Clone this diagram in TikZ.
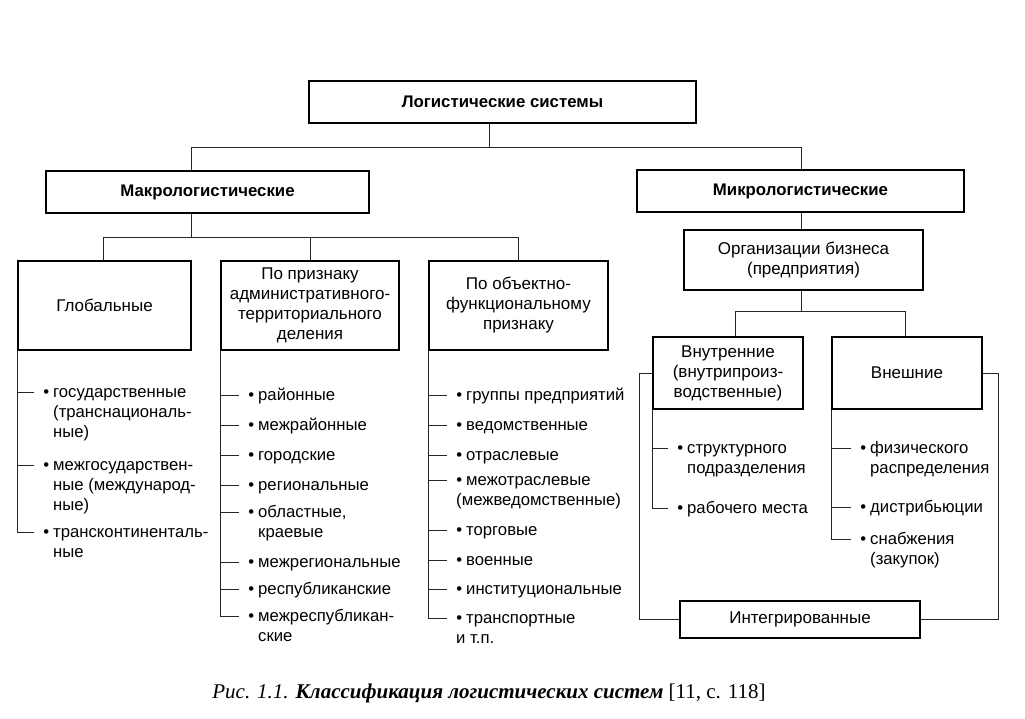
\documentclass[tikz,border=0pt]{standalone}
\usepackage{fontspec}
\setmainfont{Liberation Sans}
\newfontfamily\capfont{Liberation Serif}
\usetikzlibrary{calc}
\newcommand\ml[1]{\begin{tabular}[t]{@{}l@{}}#1\end{tabular}}
\newcommand\bl{\llap{•\hspace{4pt}}}
\tikzset{
  box/.style={draw=black, line width=1.5pt, inner sep=0pt, align=center,
    font=\fontsize{17}{20}\selectfont},
  bbox/.style={box, font=\fontsize{16.8}{20}\selectfont\bfseries},
  conn/.style={draw=black!85, line width=0.8pt},
  item/.style={anchor=base west, inner sep=0pt, font=\fontsize{16.7}{20}\selectfont},
}
% #1 name, #2 parent box, #3 text x, #4 tick y, #5 content
\newcommand\itm[5]{%
  \node[item] (#1) at (#3,#4+5) {\ml{\bl #5}};
  \coordinate (#1-t) at (#3-19,#4);
  \draw[conn] (#2.south west |- #1-t) -- (#1-t);
}
\begin{document}
\begin{tikzpicture}[x=1pt,y=-1pt]
\useasboundingbox (0,0) rectangle (1025,719);
% boxes
\node[bbox, minimum width=387, minimum height=42] (top) at (502.5,102) {Логистические системы};
\node[bbox, minimum width=323, minimum height=42] (macro) at (207.5,192) {Макрологистические};
\node[bbox, minimum width=327, minimum height=42] (micro) at (800.5,191) {Микрологистические};
\node[box, minimum width=173, minimum height=89] (glob) at (104.5,305.5) {Глобальные};
\node[box, minimum width=178, minimum height=89] (admin) at (310,305.5) {По признаку\\административного-\\территориального\\деления};
\node[box, minimum width=179, minimum height=89] (obj) at (518.5,305.5) {По объектно-\\функциональному\\признаку};
\node[box, minimum width=239, minimum height=60] (org) at (803.5,260) {Организации бизнеса\\(предприятия)};
\node[box, minimum width=150, minimum height=72] (inner) at (728,373) {Внутренние\\(внутрипроиз-\\водственные)};
\node[box, minimum width=150, minimum height=72] (outer) at (907,373) {Внешние};
\node[box, minimum width=240, minimum height=37] (integ) at (800,619.5) {Интегрированные};
% tree connectors
\coordinate (t1) at (489,147);
\coordinate (tl) at (191,147);
\coordinate (tr) at (801,147);
\draw[conn] (top.south -| t1) -- (t1);
\draw[conn] (macro.north -| tl) -- (tl) -- (tr) -- (micro.north -| tr);
\coordinate (m1) at (191,237);
\coordinate (ml) at (103,237);
\coordinate (mm) at (310,237);
\coordinate (mr) at (518,237);
\draw[conn] (macro.south -| m1) -- (m1);
\draw[conn] (glob.north -| ml) -- (ml) -- (mr) -- (obj.north -| mr);
\draw[conn] (admin.north -| mm) -- (mm);
\coordinate (oc) at (801,311);
\coordinate (ib) at (735,311);
\coordinate (eb) at (905,311);
\draw[conn] (micro.south -| oc) -- (org.north -| oc);
\draw[conn] (org.south -| oc) -- (oc);
\draw[conn] (inner.north -| ib) -- (ib) -- (eb) -- (outer.north -| eb);
\coordinate (lb) at (639,373);
\coordinate (rb) at (998,373);
\draw[conn] (inner.west) -- (lb) |- (integ.west);
\draw[conn] (outer.east) -- (rb) |- (integ.east);
% global items
\itm{g1}{glob}{53}{392}{государственные\\(транснациональ-\\ные)}
\itm{g2}{glob}{53}{465}{межгосударствен-\\ные (международ-\\ные)}
\itm{g3}{glob}{53}{532}{трансконтиненталь-\\ные}
\draw[conn] (glob.south west) -- (glob.south west |- g3-t);
% admin items
\itm{a1}{admin}{258}{395}{районные}
\itm{a2}{admin}{258}{425}{межрайонные}
\itm{a3}{admin}{258}{455}{городские}
\itm{a4}{admin}{258}{485}{региональные}
\itm{a5}{admin}{258}{512}{областные,\\краевые}
\itm{a6}{admin}{258}{562}{межрегиональные}
\itm{a7}{admin}{258}{589}{республиканские}
\itm{a8}{admin}{258}{616}{межреспубликан-\\ские}
\draw[conn] (admin.south west) -- (admin.south west |- a8-t);
% object items
\itm{o1}{obj}{466}{395}{группы предприятий}
\itm{o2}{obj}{466}{425}{ведомственные}
\itm{o3}{obj}{466}{455}{отраслевые}
\itm{o4}{obj}{466}{480}{межотраслевые\\\hspace*{-10pt}(межведомственные)}
\itm{o5}{obj}{466}{530}{торговые}
\itm{o6}{obj}{466}{560}{военные}
\itm{o7}{obj}{466}{589}{институциональные}
\itm{o8}{obj}{466}{618}{транспортные\\\hspace*{-10pt}и т.п.}
\draw[conn] (obj.south west) -- (obj.south west |- o8-t);
% inner items
\itm{i1}{inner}{687}{448}{структурного\\подразделения}
\itm{i2}{inner}{687}{508}{рабочего места}
\draw[conn] (inner.south west) -- (inner.south west |- i2-t);
% outer items
\itm{e1}{outer}{870}{448}{физического\\распределения}
\itm{e2}{outer}{870}{507}{дистрибьюции}
\itm{e3}{outer}{870}{539}{снабжения\\(закупок)}
\draw[conn] (outer.south west) -- (outer.south west |- e3-t);
% caption
\node[anchor=base, inner sep=0pt, font=\capfont\fontsize{21}{24}\selectfont] (cap) at (489,698)
  {\textit{Рис. 1.1.} \textbf{\textit{Классификация логистических систем}} [11, с. 118]};
\end{tikzpicture}
\end{document}
